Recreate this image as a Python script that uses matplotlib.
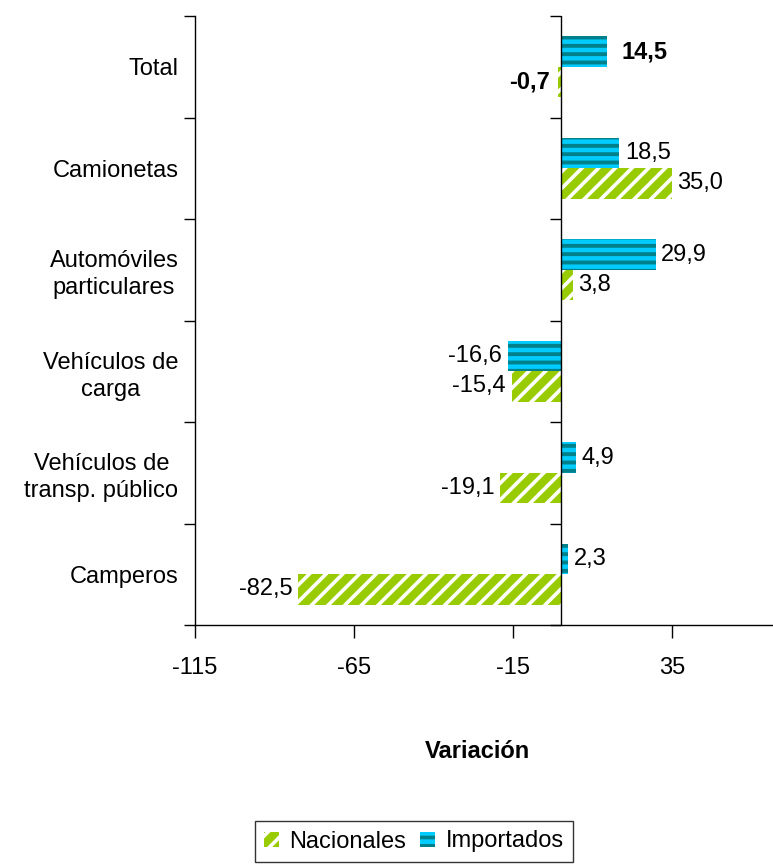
import numpy as np
import matplotlib
matplotlib.use("Agg")
import matplotlib.pyplot as plt

plt.rcParams["font.family"] = ["Liberation Sans", "DejaVu Sans"]

# ── data ───────────────────────────────────────────────────────────────
categories = [
    "Total",
    "Camionetas",
    "Automóviles\nparticulares",
    "Vehículos de\ncarga",
    "Vehículos de\ntransp. público",
    "Camperos",
]
nacionales = [-0.7, 35.0, 3.8, -15.4, -19.1, -82.5]
importados = [14.5, 18.5, 29.9, -16.6, 4.9, 2.3]
x_ticks = [-115, -65, -15, 35]

# ── style ──────────────────────────────────────────────────────────────
GREEN = "#99CC00"
CYAN = "#00CCFF"
TEAL = "#00808A"
XMIN, XMAX = -115, 66.8
BAR_H = 0.3

fig = plt.figure(figsize=(7.73, 8.64), dpi=100)
ax = fig.add_axes([195 / 773, 1 - 625 / 864, 1 - 195 / 773, (625 - 16) / 864])

y = np.arange(len(categories))

plt.rcParams["hatch.linewidth"] = 2.8
b_imp = ax.barh(y - BAR_H / 2, importados, height=BAR_H, color=CYAN,
                edgecolor=TEAL, linewidth=0, hatch="--", label="Importados")
plt.rcParams["hatch.linewidth"] = 2.6
b_nac = ax.barh(y + BAR_H / 2, nacionales, height=BAR_H, color=GREEN,
                edgecolor="white", linewidth=0, hatch="//", label="Nacionales")


def label_bars(bars, values, total_off):
    for i, (bar, v) in enumerate(zip(bars, values)):
        bold = i == 0
        off = total_off if bold else 4
        ax.annotate(f"{v:.1f}".replace(".", ","),
                    xy=(v, bar.get_y() + bar.get_height() / 2),
                    xytext=(off if v >= 0 else -off, 0), textcoords="offset points",
                    ha="left" if v >= 0 else "right", va="center",
                    fontsize=17, fontweight="bold" if bold else "normal")


label_bars(b_imp, importados, 11)
label_bars(b_nac, nacionales, 6)

# zero line with category ticks
bounds = np.arange(len(categories) + 1) - 0.5
ax.axvline(0, color="black", lw=1)
ax.plot(np.zeros_like(bounds), bounds, ls="none", marker=0, ms=8,
        mew=1, color="black", clip_on=False)

ax.set_xlim(XMIN, XMAX)
ax.set_ylim(bounds[-1], bounds[0])
ax.set_xticks(x_ticks)
ax.set_xticklabels([str(t) for t in x_ticks])
ax.set_yticks(y)
ax.set_yticklabels(categories, multialignment="center", linespacing=1.3)
ax.set_yticks(bounds, minor=True)
ax.tick_params(axis="y", which="major", length=0, pad=12, labelsize=17)
ax.tick_params(axis="y", which="minor", length=8, width=1, direction="out")
ax.tick_params(axis="x", length=9, width=1, pad=14, labelsize=17)

for s in ("top", "right"):
    ax.spines[s].set_visible(False)
for s in ("left", "bottom"):
    ax.spines[s].set_linewidth(1)

fig.text(477 / 773, 1 - 752 / 864, "Variación", ha="center", va="center",
         fontsize=17, fontweight="bold")

leg = fig.legend(handles=[b_nac, b_imp], labels=["Nacionales", "Importados"],
                 loc="center", bbox_to_anchor=(414 / 773, 1 - 841.5 / 864),
                 ncol=2, fontsize=17, frameon=True, fancybox=False,
                 handlelength=0.62, handleheight=0.62, handletextpad=0.45,
                 columnspacing=0.6, borderpad=0.4, borderaxespad=0)
leg.get_frame().set_edgecolor("black")
leg.get_frame().set_linewidth(1)

fig.savefig("out.png", dpi=100)
